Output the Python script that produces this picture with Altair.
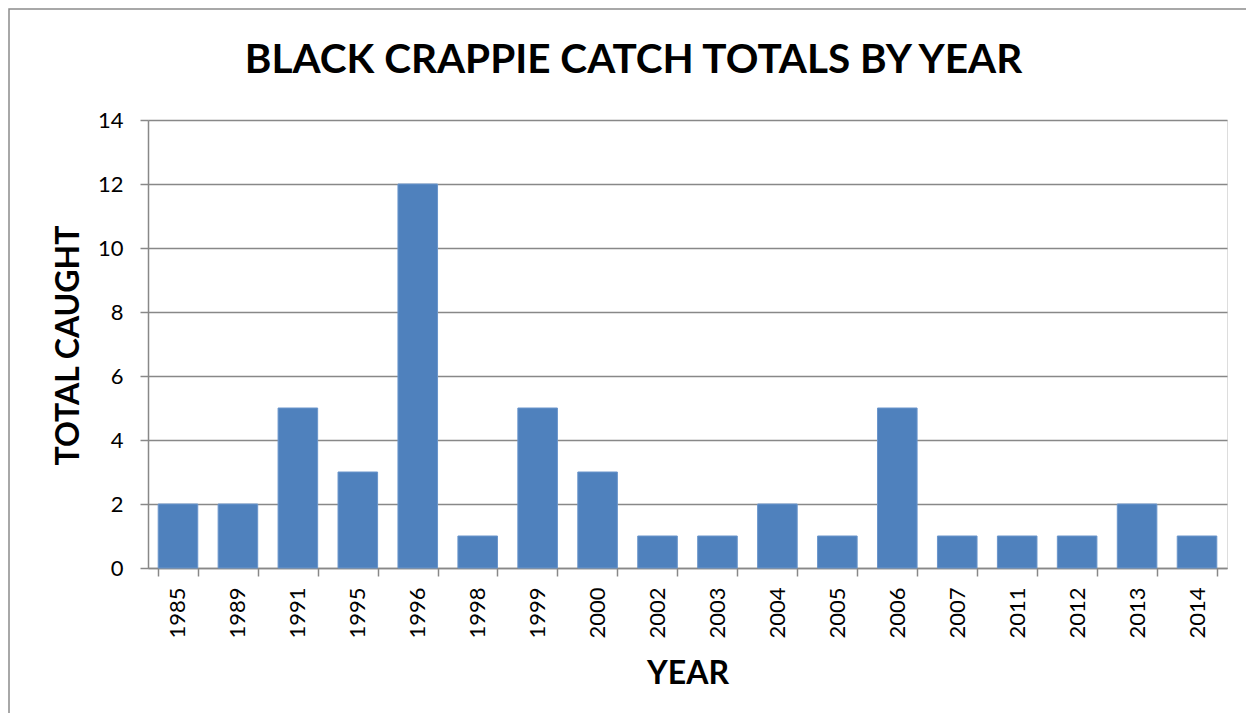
import altair as alt
import pandas as pd

years = ["1985", "1989", "1991", "1995", "1996", "1998", "1999", "2000", "2002",
         "2003", "2004", "2005", "2006", "2007", "2011", "2012", "2013", "2014"]
caught = [2, 2, 5, 3, 12, 1, 5, 3, 1, 1, 2, 1, 5, 1, 1, 1, 2, 1]
title_text = ["BLACK CRAPPIE CATCH TOTALS BY YEAR"]

df = pd.DataFrame({"year": years, "caught": caught})

FONT = "Lato"
GRID = "#888888"
W, H = 1079, 448
PL, PT = 140, 112

bars = alt.Chart(df).mark_bar(color="#4F81BD", stroke="#6A95CB", strokeWidth=1).encode(
    x=alt.X("year:N", sort=years,
            scale=alt.Scale(paddingInner=0.34, paddingOuter=0.17),
            axis=alt.Axis(title="YEAR", labelAngle=-90, labelAlign="right", labelBaseline="middle",
                          labelFontSize=22, labelFont=FONT, labelColor="#000000",
                          labelPadding=11, tickBand="extent", tickSize=8, tickColor=GRID,
                          tickWidth=1.5, domainColor=GRID, domainWidth=1.5,
                          titleFont=FONT, titleFontSize=32, titleFontWeight="bold",
                          titleColor="#000000", titleX=W / 2, titleY=115,
                          titleBaseline="alphabetic", titleAlign="center")),
    y=alt.Y("caught:Q", scale=alt.Scale(domain=[0, 14], nice=False),
            axis=alt.Axis(title="TOTAL CAUGHT", values=list(range(0, 15, 2)),
                          labelFontSize=22, labelFont=FONT, labelColor="#000000",
                          labelPadding=17, tickSize=8, tickColor=GRID, tickWidth=1.5,
                          domainColor=GRID, domainWidth=1.5,
                          grid=True, gridColor=GRID, gridWidth=1.5,
                          titleFont=FONT, titleFontSize=32, titleFontWeight="bold",
                          titleColor="#000000", titleAngle=-90, titleX=-70, titleY=225,
                          titleBaseline="alphabetic", titleAlign="center")),
)

title = alt.Chart(pd.DataFrame({"t": title_text})).mark_text(
    font=FONT, fontSize=40.5, fontWeight="bold", color="#000000",
    align="center", baseline="alphabetic"
).encode(text="t:N", x=alt.value(485.5), y=alt.value(-47))

border = alt.Chart(pd.DataFrame({"a": [0]})).mark_rect(
    fill=None, stroke="#8c8c8c", strokeWidth=1.5
).encode(
    x=alt.value(-139), x2=alt.value(W + 200),
    y=alt.value(-111), y2=alt.value(H + 300),
)

chart = alt.layer(bars, title, border).properties(
    width=W, height=H,
    autosize=alt.AutoSizeParams(type="none"),
    padding={"left": PL, "top": PT, "right": 1254 - 16 - PL - W, "bottom": 721 - 16 - PT - H},
).configure_view(stroke=None).configure(background="white")

chart.save("out.html", embed_options={"renderer": "svg", "actions": False})
